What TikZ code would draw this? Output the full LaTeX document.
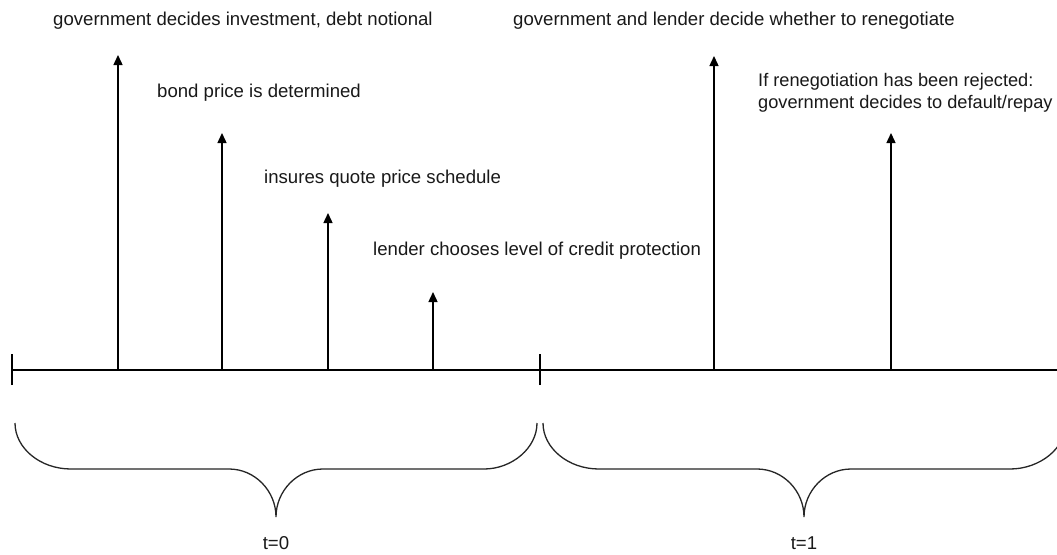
\documentclass[tikz,border=0pt]{standalone}
\usepackage{fontspec}
\setmainfont{Liberation Sans}
\usetikzlibrary{arrows.meta}
\begin{document}
\begin{tikzpicture}[x=1pt,y=-1pt,
  line/.style={line width=1.4pt,black},
  evarrow/.style={line width=1.4pt,-{Triangle[length=10pt,width=9pt]}},
  bracepath/.style={line width=1.3pt,black!85},
  lbl/.style={inner sep=0pt,font=\fontsize{18.6}{22}\selectfont,text=black!90}]
\useasboundingbox (0,0) rectangle (1057,554);
\fill[white] (0,0) rectangle (1057,554);
\begin{scope}
\clip (0,0) rectangle (1057,554);
% timeline
\coordinate (start) at (12,370);
\coordinate (mid) at (540,370);
\coordinate (end) at (1060,370);
\draw[line] (start) -- (end);
\draw[line] ([yshift=-15pt]start) -- ([yshift=16pt]start);
\draw[line] ([yshift=-15pt]mid) -- ([yshift=16pt]mid);
% event points and arrow tips
\coordinate (e1) at (118,370); \coordinate (a1) at (118,55);
\coordinate (e2) at (222,370); \coordinate (a2) at (222,133);
\coordinate (e3) at (328,370); \coordinate (a3) at (328,213);
\coordinate (e4) at (433,370); \coordinate (a4) at (433,292);
\coordinate (e5) at (714,370); \coordinate (a5) at (714,56);
\coordinate (e6) at (891,370); \coordinate (a6) at (891,133);
\foreach \i in {1,...,6} {\draw[evarrow] (e\i) -- (a\i);}
% labels
\node[lbl,anchor=base west] (l1) at (53,25) {government decides investment, debt notional};
\node[lbl,anchor=base west] (l2) at (157,97) {bond price is determined};
\node[lbl,anchor=base west] (l3) at (264,183) {insures quote price schedule};
\node[lbl,anchor=base west] (l4) at (373,255) {lender chooses level of credit protection};
\node[lbl,anchor=base west] (l5) at (513,25) {government and lender decide whether to renegotiate};
\node[lbl,anchor=north west,align=left,font=\fontsize{18.2}{22}\selectfont] (l6) at (758,73) {If renegotiation has been rejected:\\government decides to default/repay};
% braces
\draw[bracepath] (15,423) .. controls (15,448) and (40,469) .. (71,469)
  -- (229,469) .. controls (255,469) and (276,491) .. (276,517)
  .. controls (276,491) and (297,469) .. (323,469)
  -- (484,469) .. controls (512,469) and (537,448) .. (537,423);
\draw[bracepath] (543,423) .. controls (543,448) and (568,469) .. (599,469)
  -- (757,469) .. controls (783,469) and (804,491) .. (804,517)
  .. controls (804,491) and (825,469) .. (851,469)
  -- (1010,469) .. controls (1040,469) and (1066,448) .. (1066,423);
\node[lbl,anchor=base] (t0) at (276,549) {t=0};
\node[lbl,anchor=base] (t1) at (804,549) {t=1};
\end{scope}
\end{tikzpicture}
\end{document}
